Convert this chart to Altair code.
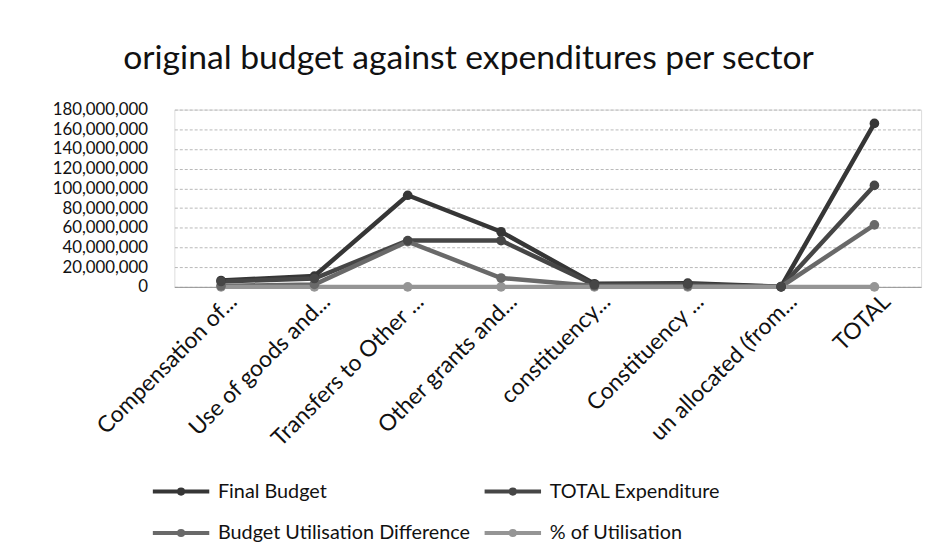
import altair as alt
import pandas as pd

categories = ["Compensation of...", "Use of goods and...", "Transfers to Other ...",
              "Other grants and...", "constituency...", "Constituency ...",
              "un allocated (from...", "TOTAL"]
series_names = ["Final Budget", "TOTAL Expenditure", "Budget Utilisation Difference", "% of Utilisation"]
final_budget = [6500000, 11000000, 93000000, 56000000, 3200000, 3800000, 200000, 166000000]
total_expenditure = [5500000, 8500000, 47000000, 47000000, 2200000, 2800000, 0, 103000000]
utilisation_diff = [1000000, 2500000, 46000000, 9000000, 1000000, 1000000, 200000, 63000000]
pct_utilisation = [0.85, 0.77, 0.5, 0.84, 0.69, 0.74, 0, 0.62]
colors = ["#363636", "#464646", "#696969", "#959595"]

# legend fills column by column: order entries so rows read as in the reference
legend_order = [series_names[0], series_names[2], series_names[1], series_names[3]]
legend_colors = [colors[0], colors[2], colors[1], colors[3]]

rows = []
for name, vals in zip(series_names, [final_budget, total_expenditure, utilisation_diff, pct_utilisation]):
    for c, v in zip(categories, vals):
        rows.append({"Category": c, "Series": name, "Value": v})
df = pd.DataFrame(rows)

FONT = "Lato"
legend_path = "M-1,0L3,0M1.15,0A0.15,0.15 0 1 1 0.85,0A0.15,0.15 0 1 1 1.15,0"

chart = alt.Chart(df).mark_line(
    strokeWidth=4.5,
    point=alt.OverlayMarkDef(filled=True, size=95, opacity=1)
).encode(
    x=alt.X("Category:N", sort=categories,
            scale=alt.Scale(type="point", padding=0.5),
            axis=alt.Axis(title=None, labelAngle=-45, labelFontSize=23, labelFont=FONT,
                          labelColor="#111", tickSize=0, labelPadding=11, labelOffset=12,
                          labelAlign="right", labelBaseline="middle",
                          domainColor="#999", domainWidth=1, grid=False, labelLimit=300)),
    y=alt.Y("Value:Q", scale=alt.Scale(domain=[0, 180000000], nice=False),
            axis=alt.Axis(title=None, values=list(range(0, 180000001, 20000000)),
                          format=",d", labelFontSize=17, labelFont=FONT, labelColor="#111",
                          tickSize=0, labelPadding=27, domain=False,
                          gridColor="#b8b8b8", gridDash=[3, 2], gridWidth=1)),
    color=alt.Color("Series:N", sort=legend_order,
                    scale=alt.Scale(domain=legend_order, range=legend_colors),
                    legend=alt.Legend(title=None, orient="none", legendX=-24, legendY=369,
                                      columns=2, columnPadding=6, rowPadding=15,
                                      symbolType=legend_path, symbolSize=812,
                                      symbolStrokeWidth=4, labelFontSize=20, labelFont=FONT,
                                      labelColor="#111", labelLimit=400, labelOffset=35)),
    order=alt.Order("Series:N")
).properties(
    width=754, height=179,
    title=alt.TitleParams("original budget against expenditures per sector",
                          font=FONT, fontSize=34, fontWeight="normal", color="#111",
                          anchor="middle", dx=-80, offset=25),
    autosize=alt.AutoSizeParams(type="none"),
    padding={"left": 168, "top": 100, "right": 10, "bottom": 255}
).configure_view(stroke=None).configure(background="white")

chart.save("out.html", embed_options={"renderer": "svg", "actions": False})
